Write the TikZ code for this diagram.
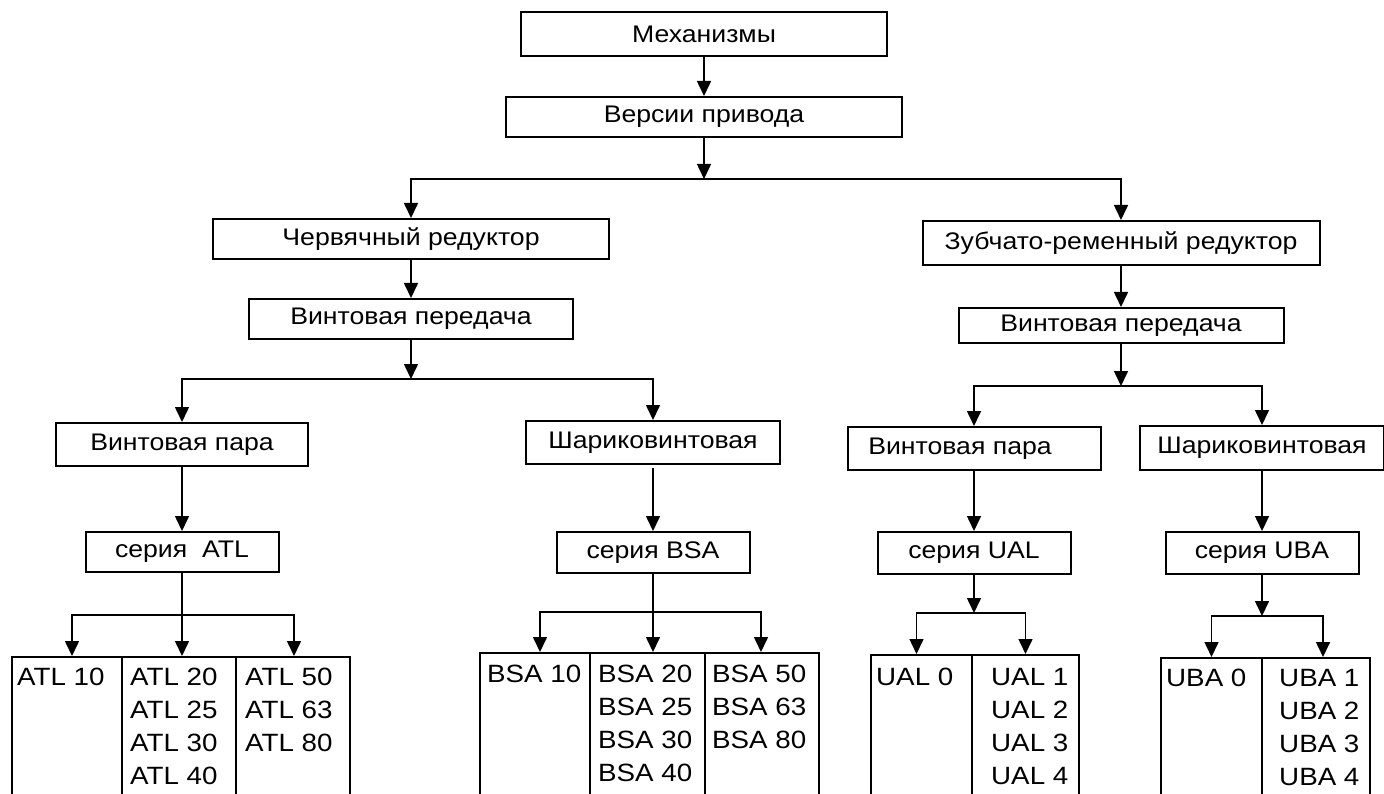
\documentclass[tikz,border=0pt]{standalone}
\usepackage{fontspec}
\setmainfont{Liberation Sans}[FakeStretch=1.11]
\usetikzlibrary{arrows.meta}
\begin{document}
\begin{tikzpicture}[x=1pt,y=-1pt,
  box/.style={draw, line width=2pt, inner sep=0pt, font=\fontsize{24}{28}\selectfont},
  col/.style={draw, line width=2pt, inner sep=0pt, anchor=north west, minimum height=170pt},
  cell/.style={inner sep=0pt, anchor=north west, align=left, font=\fontsize{25}{33}\selectfont},
  conn/.style={line width=1.6pt},
  arr/.style={conn, -{Triangle[length=15pt,width=14pt]}}]
\useasboundingbox (0,0) rectangle (1384,794);
\clip (0,0) rectangle (1384,794);
\fill[white] (0,0) rectangle (1384,794);

% header boxes
\node[box, minimum width=366pt, minimum height=44pt] (mech) at (704,34) {Механизмы};
\node[box, minimum width=396pt, minimum height=40pt] (vers) at (704,117) {Версии привода};
\node[box, minimum width=396pt, minimum height=40pt] (cherv) at (411,239) {Червячный редуктор};
\node[box, minimum width=397pt, minimum height=44pt] (zub) at (1121,243) {Зубчато-ременный редуктор};
\node[box, minimum width=324pt, minimum height=40pt] (vp1) at (411,319) {Винтовая передача};
\node[box, minimum width=325pt, minimum height=35pt] (vp2) at (1121,325.5) {Винтовая передача};
\node[box, minimum width=252pt, minimum height=43pt] (para1) at (182,444.5) {Винтовая пара};
\node[box, minimum width=254pt, minimum height=43pt] (shar1) at (653,442.5) {Шариковинтовая};
\node[box, minimum width=253pt, minimum height=43pt] (para2) at (974,448.5) {\hspace*{-28pt}Винтовая пара};
\node[box, minimum width=244pt, minimum height=44pt] (shar2) at (1262,448) {Шариковинтовая};
\node[box, minimum width=193pt, minimum height=40pt] (serATL) at (182,552) {серия\ \ ATL};
\node[box, minimum width=193pt, minimum height=41pt] (serBSA) at (653,552.5) {серия BSA};
\node[box, minimum width=193pt, minimum height=42pt] (serUAL) at (974,553) {серия UAL};
\node[box, minimum width=193pt, minimum height=42pt] (serUBA) at (1262,553) {серия UBA};

% table columns
\node[col, minimum width=110pt] (a1) at (11,656) {};
\node[col, minimum width=114pt] (a2) at (121,656) {};
\node[col, minimum width=114pt] (a3) at (235,656) {};
\node[col, minimum width=110pt] (b1) at (479,652) {};
\node[col, minimum width=115pt] (b2) at (589,652) {};
\node[col, minimum width=114pt] (b3) at (704,652) {};
\node[col, minimum width=101pt] (u1) at (870,654) {};
\node[col, minimum width=107pt] (u2) at (971,654) {};
\node[col, minimum width=101pt] (v1) at (1160,657) {};
\node[col, minimum width=108pt] (v2) at (1261,657) {};

% table texts
\node[cell] (ta1) at ([shift={(6,12)}]a1.north west) {ATL 10};
\node[cell] (ta2) at ([shift={(9,12)}]a2.north west) {ATL 20\\ATL 25\\ATL 30\\ATL 40};
\node[cell] (ta3) at ([shift={(10,12)}]a3.north west) {ATL 50\\ATL 63\\ATL 80};
\node[cell] (tb1) at ([shift={(8,13)}]b1.north west) {BSA 10};
\node[cell] (tb2) at ([shift={(9,13)}]b2.north west) {BSA 20\\BSA 25\\BSA 30\\BSA 40};
\node[cell] (tb3) at ([shift={(8,13)}]b3.north west) {BSA 50\\BSA 63\\BSA 80};
\node[cell] (tu1) at ([shift={(6,14)}]u1.north west) {UAL 0};
\node[cell] (tu2) at ([shift={(20,14)}]u2.north west) {UAL 1\\UAL 2\\UAL 3\\UAL 4};
\node[cell] (tv1) at ([shift={(6,12)}]v1.north west) {UBA 0};
\node[cell] (tv2) at ([shift={(18,12)}]v2.north west) {UBA 1\\UBA 2\\UBA 3\\UBA 4};

% junction points
\coordinate (jA) at (704,179);
\coordinate (jB) at (411,379);
\coordinate (jC) at (1121,386);
\coordinate (jD) at (182,615);
\coordinate (jE) at (653,612);
\coordinate (jF) at (974,613);
\coordinate (jG) at (1262,616);

% connectors
\draw[arr] (mech) -- (vers);
\draw[arr] (vers) -- (jA);
\draw[arr] (jA) -| (cherv.north);
\draw[arr] (jA) -| (zub.north);
\draw[arr] (cherv) -- (vp1);
\draw[arr] (zub) -- (vp2);
\draw[arr] (vp1) -- (jB);
\draw[arr] (jB) -| (para1.north);
\draw[arr] (jB) -| (shar1.north);
\draw[arr] (vp2) -- (jC);
\draw[arr] (jC) -| (para2.north);
\draw[arr] (jC) -| (shar2.north);
\draw[arr] (para1) -- (serATL);
\draw[arr, shorten <=3pt] (shar1) -- (serBSA);
\draw[arr] (para2) -- (serUAL);
\draw[arr] (shar2) -- (serUBA);

\draw[arr] (serATL.south) -- (serATL.south |- a2.north);
\draw[arr] (jD) -| ([xshift=5pt]a1.north);
\draw[arr] (jD) -| ([xshift=1pt]a3.north);
\draw[arr] (serBSA.south) -- (serBSA.south |- b2.north);
\draw[arr] (jE) -| ([xshift=5pt]b1.north);
\draw[arr] (jE) -| ([xshift=-1pt]b3.north);
\draw[arr] (serUAL) -- (jF);
\draw[arr] (jF) -| ([xshift=-5pt]u1.north);
\draw[arr] (jF) -| (u2.north);
\draw[arr] (serUBA) -- (jG);
\draw[arr] (jG) -| (v1.north);
\draw[arr] (jG) -| ([xshift=7pt]v2.north);
\end{tikzpicture}
\end{document}
